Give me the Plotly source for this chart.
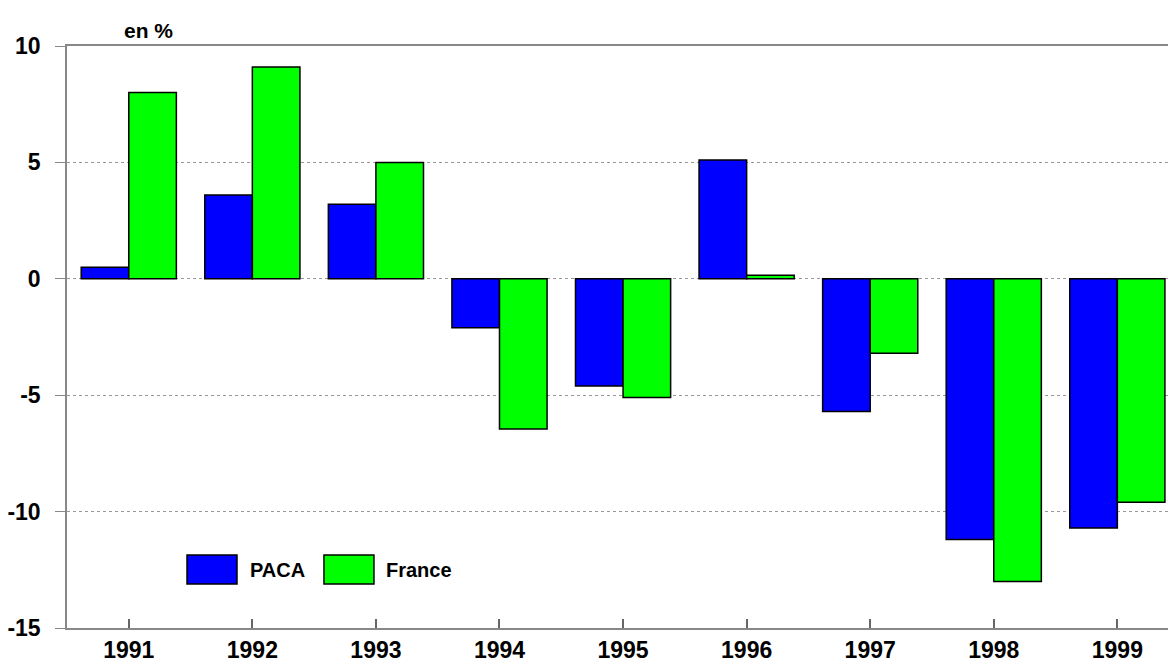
import plotly.graph_objects as go

years = ["1991", "1992", "1993", "1994", "1995", "1996", "1997", "1998", "1999"]
paca = [0.5, 3.6, 3.2, -2.1, -4.6, 5.1, -5.7, -11.2, -10.7]
france = [8.0, 9.1, 5.0, -6.45, -5.1, 0.15, -3.2, -13.0, -9.6]
y_ticks = [-15, -10, -5, 0, 5, 10]

FONT = "Liberation Sans, Arial, sans-serif"

fig = go.Figure()
fig.add_trace(go.Bar(x=years, y=paca, name="PACA",
                     marker=dict(color="#0000FF", line=dict(color="black", width=1.5))))
fig.add_trace(go.Bar(x=years, y=france, name="France",
                     marker=dict(color="#00FF00", line=dict(color="black", width=1.5))))

fig.update_layout(
    width=1168, height=664,
    margin=dict(l=67, r=0, t=46, b=36, autoexpand=False),
    plot_bgcolor="white", paper_bgcolor="white",
    barmode="group", bargap=0.23, bargroupgap=0,
    showlegend=False,
    font=dict(family=FONT, color="black"),
)
fig.update_xaxes(
    type="category", automargin=False, range=[-0.5, 8.41],
    showline=True, linecolor="#888888", linewidth=1.5, mirror=True,
    ticks="inside", ticklen=9, tickcolor="#666666", tickwidth=1.5,
    tickfont=dict(size=23, family=FONT, color="black", weight="bold"),
    ticklabelstandoff=1,
    showgrid=False,
)
fig.update_yaxes(
    range=[-15, 10], tickvals=y_ticks, ticktext=[str(v) for v in y_ticks],
    automargin=False,
    showline=True, linecolor="#888888", linewidth=1.5,
    ticks="outside", ticklen=10, tickcolor="#888888",
    tickfont=dict(size=23, family=FONT, color="black", weight="bold"),
    ticklabelstandoff=10,
    showgrid=True, gridcolor="#999999", griddash="dot", gridwidth=1,
    zeroline=False,
)

# Title "en %"
fig.add_annotation(text="<b>en %</b>", xref="paper", yref="paper", x=0.074, y=1.0,
                   xanchor="center", yanchor="bottom", showarrow=False,
                   font=dict(size=21, family=FONT, color="black"), yshift=2)

# Legend drawn manually
legend_items = [("PACA", "#0000FF", 0.109, 0.1544, 0.1644),
                ("France", "#00FF00", 0.2334, 0.2788, 0.2878)]
for name, col, x0, x1, xt in legend_items:
    fig.add_shape(type="rect", xref="paper", yref="paper", x0=x0, x1=x1, y0=0.0756, y1=0.1254,
                  fillcolor=col, line=dict(color="black", width=1.5))
    fig.add_annotation(text="<b>" + name + "</b>", xref="paper", yref="paper", x=xt, y=0.1005,
                       xanchor="left", yanchor="middle", showarrow=False,
                       font=dict(size=20, family=FONT, color="black"))

fig.write_html("out.html",
               config={"displayModeBar": False},
               post_script="document.body.style.margin='0';document.body.style.overflow='hidden';")
